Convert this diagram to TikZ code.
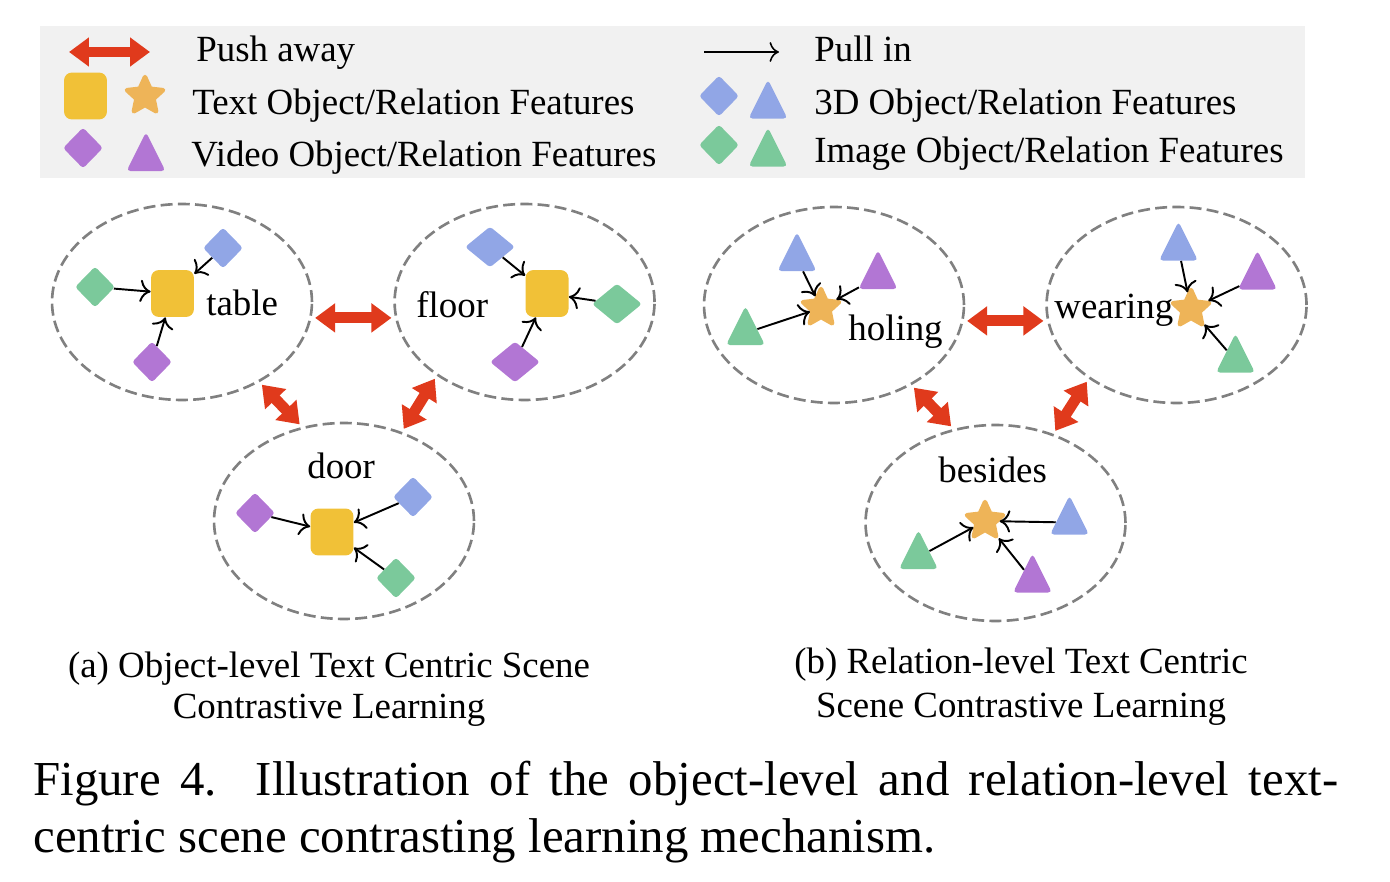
\documentclass[tikz,border=0pt]{standalone}
\usepackage{fontspec}
\setmainfont{Liberation Serif}
\usetikzlibrary{shapes, arrows.meta, positioning}

\definecolor{legendbg}{HTML}{F1F1F1}
\definecolor{dashgray}{HTML}{808080}
\definecolor{txtyellow}{HTML}{F1C137}
\definecolor{txtorange}{HTML}{EEB458}
\definecolor{vidpurple}{HTML}{B276D4}
\definecolor{dblue}{HTML}{91A6E6}
\definecolor{imggreen}{HTML}{7BC99B}
\definecolor{pushred}{HTML}{E03A1C}

\begin{document}
\begin{tikzpicture}[x=0.02cm, y=-0.02cm,
        lbl/.style={inner sep=0pt, anchor=base west, font=\fontsize{21}{25}\selectfont},
        subcap/.style={inner sep=0pt, anchor=base, font=\fontsize{21}{25}\selectfont},
        scene/.style={ellipse, draw=dashgray, dash pattern=on 6.8pt off 3pt, line width=1.5pt, minimum width=5.2cm, minimum height=3.92cm, inner sep=0pt},
        txtobj/.style={rectangle, rounded corners=0.16cm, fill=txtyellow, minimum width=0.86cm, minimum height=0.94cm, inner sep=0pt},
        txtrel/.style={star, star points=5, star point ratio=2.1, minimum size=0.76cm, inner sep=0pt, fill=txtorange, draw=txtorange, line width=2.5pt, line join=round},
        obj/.style={diamond, fill=#1, minimum width=0.8cm, minimum height=0.82cm, inner sep=0pt, rounded corners=0.06cm},
        rel/.style={isosceles triangle, shape border rotate=90, isosceles triangle stretches, minimum width=0.78cm, minimum height=0.78cm, inner sep=0pt, fill=#1, rounded corners=0.08cm, yshift=-0.13cm},
        pull/.style={-{To[scale=1.5]}, line width=1.1pt},
        push/.style={{Triangle[length=0.4cm, width=0.56cm]}-{Triangle[length=0.4cm, width=0.56cm]}, draw=pushred, line width=6.2pt},
        gap/.style={shorten <=2pt, shorten >=2pt}
    ]
        \useasboundingbox (0,0) rectangle (1390,882);

        \node[fill=legendbg, minimum width=25.3cm, minimum height=3.04cm, inner sep=0pt] (legend) at (672.5,102) {};
        \coordinate (pushl) at (69,52);
        \coordinate (pushr) at (150,52);
        \draw[push] (pushl) -- (pushr);
        \node[lbl] (pushlbl) at (196,62) {Push away};
        \node[txtobj] (ltxtobj) at (85.5,96) {};
        \node[txtrel] (ltxtrel) at (145,96) {};
        \node[lbl] (txtlbl) at (192,114) {Text Object/Relation Features};
        \node[obj=vidpurple] (lvidobj) at (83,148) {};
        \node[rel=vidpurple] (lvidrel) at (146,152.5) {};
        \node[lbl] (vidlbl) at (191,167) {Video Object/Relation Features};
        \coordinate (pulll) at (704,52);
        \coordinate (pullr) at (779,52);
        \draw[pull, line width=0.9pt] (pulll) -- (pullr);
        \node[lbl] (pulllbl) at (814,62) {Pull in};
        \node[obj=dblue] (ldobj) at (719,96) {};
        \node[rel=dblue] (ldrel) at (768,100) {};
        \node[lbl] (dlbl) at (814,114) {3D Object/Relation Features};
        \node[obj=imggreen] (limgobj) at (719,145) {};
        \node[rel=imggreen] (limgrel) at (768,148) {};
        \node[lbl] (imglbl) at (814,163) {Image Object/Relation Features};

        \node[scene] (table) at (182,302) {};
        \node[scene, right=1.6cm of table] (floor) {};
        \node[scene] (door) at (344,521) {};

        \node[txtobj] (tabsq) at (172.5,293.5) {};
        \node[obj=imggreen] (tabimg) at (95,287) {};
        \node[obj=dblue] (tabd) at (223,248) {};
        \node[obj=vidpurple] (tabvid) at (152,362) {};
        \node[lbl] (tablbl) at (206,315) {table};

        \node[txtobj] (flosq) at (547,293.5) {};
        \node[obj=dblue, minimum width=1cm] (flod) at (490,247) {};
        \node[obj=imggreen, minimum width=1cm] (floimg) at (617,304) {};
        \node[obj=vidpurple, minimum width=1cm] (flovid) at (515,362) {};
        \node[lbl] (flolbl) at (416,317) {floor};

        \node[lbl] (doorlbl) at (307,478) {door};
        \node[txtobj] (doorsq) at (332,532) {};
        \node[obj=vidpurple] (doorvid) at (255,513) {};
        \node[obj=dblue] (doord) at (413,497) {};
        \node[obj=imggreen] (doorimg) at (396,578) {};

        \draw[pull] (tabimg) -- (tabsq);
        \draw[pull] (tabd) -- (tabsq);
        \draw[pull] (tabvid) -- (tabsq);
        \draw[pull] (flod) -- (flosq);
        \draw[pull] (floimg) -- (flosq);
        \draw[pull] (flovid) -- (flosq);
        \draw[pull] (doorvid) -- (doorsq);
        \draw[pull] (doord) -- (doorsq);
        \draw[pull] (doorimg) -- (doorsq);

        \draw[push, gap] (table.-7) -- (floor.187);
        \draw[push, gap] (table.-46) -- (door.114);
        \draw[push, gap] (floor.220) -- (door.57);

        \node[scene] (holing) at (834,305) {};
        \node[scene, right=1.6cm of holing] (wearing) {};
        \node[scene] (besides) at (995.5,523) {};

        \node[txtrel] (holstar) at (821,308) {};
        \node[rel=dblue] (hold) at (797,252.5) {};
        \node[rel=vidpurple] (holvid) at (878,270.5) {};
        \node[rel=imggreen] (holimg) at (745.5,326.5) {};
        \node[lbl] (hollbl) at (848,340) {holing};

        \node[lbl] (wealbl) at (1054,318) {wearing};
        \node[txtrel] (weastar) at (1191,309) {};
        \node[rel=dblue] (wead) at (1178.5,242) {};
        \node[rel=vidpurple] (weavid) at (1257.5,271) {};
        \node[rel=imggreen] (weaimg) at (1235.5,354) {};

        \node[lbl] (beslbl) at (938,482) {besides};
        \node[txtrel] (besstar) at (985,521) {};
        \node[rel=dblue] (besd) at (1069.5,516) {};
        \node[rel=imggreen] (besimg) at (918.5,550.5) {};
        \node[rel=vidpurple] (besvid) at (1032.5,574) {};

        \draw[pull] (hold) -- (holstar);
        \draw[pull] (holvid) -- (holstar);
        \draw[pull] (holimg) -- (holstar);
        \draw[pull] (wead) -- (weastar);
        \draw[pull] (weavid) -- (weastar);
        \draw[pull] (weaimg) -- (weastar);
        \draw[pull] (besd) -- (besstar);
        \draw[pull] (besimg) -- (besstar);
        \draw[pull] (besvid) -- (besstar);

        \draw[push, gap] (holing.-7) -- (wearing.187);
        \draw[push, gap] (holing.-46) -- (besides.114);
        \draw[push, gap] (wearing.220) -- (besides.57);

        \node[subcap] (capa1) at (329,677) {(a) Object-level Text Centric Scene};
        \node[subcap] (capa2) at (329,718) {Contrastive Learning};
        \node[subcap] (capb1) at (1021,673) {(b) Relation-level Text Centric};
        \node[subcap] (capb2) at (1021,717) {Scene Contrastive Learning};
        \node[inner sep=0pt, anchor=base west, font=\fontsize{27.8}{33}\selectfont] (fig1) at (33,795) {\makebox[26.1cm][s]{Figure 4.\ \ Illustration of the object-level and relation-level text-}};
        \node[inner sep=0pt, anchor=base west, font=\fontsize{27.8}{33}\selectfont] (fig2) at (33,852) {centric scene contrasting learning mechanism.};
    \end{tikzpicture}
\end{document}
